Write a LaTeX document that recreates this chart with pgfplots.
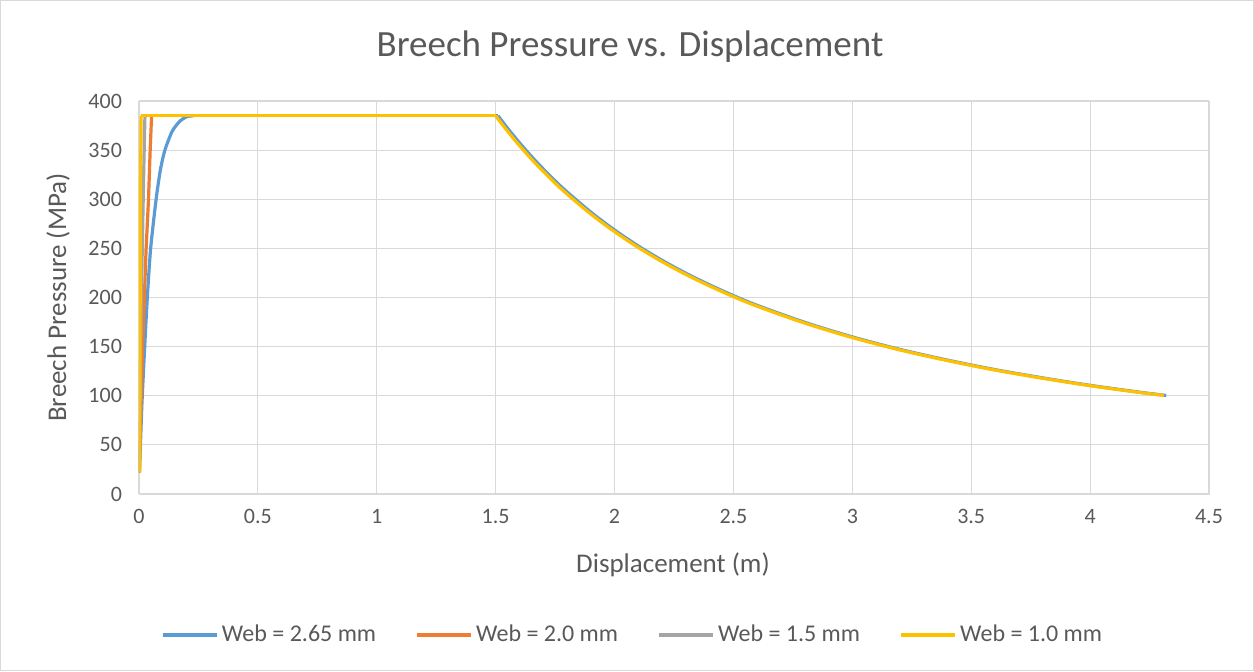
\documentclass[border=0pt]{standalone}
\usepackage{fontspec}
\setmainfont{Carlito}
\usepackage{pgfplots}
\pgfplotsset{compat=1.18}
\definecolor{xlblue}{HTML}{5B9BD5}
\definecolor{xlorange}{HTML}{ED7D31}
\definecolor{xlgray}{HTML}{A5A5A5}
\definecolor{xlyellow}{HTML}{FFC000}
\definecolor{txt}{HTML}{595959}
\definecolor{gridc}{HTML}{D9D9D9}
\begin{document}
\begin{tikzpicture}
% chart frame (1254 x 671 px at 0.5pt/px)
\draw[gridc, line width=0.6pt] (-69.2pt,-88.2pt) rectangle (557.2pt,246.7pt);
\begin{axis}[
at={(0,0)}, anchor=south west,
scale only axis,
width=535pt, height=196.5pt,
xmin=0, xmax=4.5, ymin=0, ymax=400,
xtick={0,0.5,...,4.5},
ytick={0,50,...,400},
major tick length=0pt,
axis line style={gridc},
grid=major,
grid style={gridc, line width=0.6pt},
tick label style={font=\fontsize{11}{13}\selectfont, text=txt},
/pgf/number format/assume math mode=true,
xticklabel style={yshift=-4pt},
yticklabel style={xshift=-5pt},
legend columns=4,
legend style={at={(0.4617,-0.3588)}, anchor=center, draw=none,
  font=\fontsize{12}{14}\selectfont, text=txt,
  nodes={inner xsep=1.5pt},
  /tikz/every even column/.append style={column sep=18pt}},
legend image code/.code={\draw[#1, line width=2pt] (0pt,0pt) -- (27pt,0pt);},
every axis plot/.append style={line width=1.6pt, line join=round},
]
\addplot[xlblue, smooth, tension=0.4] coordinates {
(0.002,22) (0.012,90) (0.024,150) (0.035,200) (0.049,250) (0.072,300)
(0.09,330) (0.109,350) (0.139,369) (0.17,379) (0.2,384) (0.23,385) };
\addlegendentry{Web = 2.65 mm}
\addplot[xlorange] coordinates {
(0.001,22) (0.015,150) (0.03,250) (0.04,300) (0.047,350) (0.053,385) };
\addlegendentry{Web = 2.0 mm}
\addplot[xlgray] coordinates {
(0.001,22) (0.01,200) (0.02,330) (0.025,385) };
\addlegendentry{Web = 1.5 mm}
\addplot[xlyellow] coordinates {
(0.003,22) (0.006,300) (0.009,385) };
\addlegendentry{Web = 1.0 mm}
% common plateau for all webs
\addplot[xlblue, forget plot] coordinates {(0.23,385) (1.51,385)};
% expansion after burnout
\addplot[xlblue, forget plot, smooth] coordinates {
(1.51,385) (1.55,372.3) (1.6,357.5) (1.65,343.7) (1.7,330.8)
(1.75,318.7) (1.8,307.5) (1.9,286.9) (2.0,268.7) (2.1,252.4) (2.2,237.8)
(2.3,224.7) (2.4,212.8) (2.5,201.9) (2.6,192.0) (2.8,174.7) (3.0,159.9)
(3.2,147.2) (3.4,136.3) (3.6,126.6) (3.8,118.2) (4.0,110.6) (4.2,103.9)
(4.32,100.3) };
\addplot[xlyellow, forget plot] coordinates {(0.009,385) (1.5,385)};
\addplot[xlyellow, forget plot, smooth] coordinates {
(1.5,385) (1.54,372.3) (1.59,357.5) (1.64,343.7) (1.69,330.8)
(1.74,318.7) (1.79,307.5) (1.89,286.9) (1.99,268.7) (2.09,252.4) (2.19,237.8)
(2.29,224.7) (2.39,212.8) (2.49,201.9) (2.59,192.0) (2.79,174.7) (2.99,159.9)
(3.19,147.2) (3.39,136.3) (3.59,126.6) (3.79,118.2) (3.99,110.6) (4.19,103.9)
(4.31,100.3) };
\end{axis}
\node[text=txt, font=\fontsize{18.5}{22}\selectfont] at (245.5pt,223.5pt) {Breech Pressure vs. Displacement};
\node[text=txt, font=\fontsize{13.5}{16}\selectfont] at (267pt,-35.5pt) {Displacement (m)};
\node[text=txt, font=\fontsize{13.5}{16}\selectfont, rotate=90] at (-40.5pt,98.25pt) {Breech Pressure (MPa)};
\end{tikzpicture}
\end{document}
